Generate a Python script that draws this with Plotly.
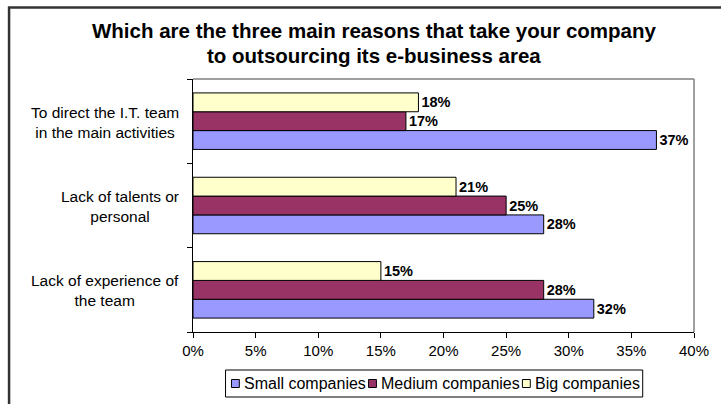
import plotly.graph_objects as go

categories = ["Lack of experience of the team", "Lack of talents or personal",
              "To direct the I.T. team in the main activities"]
category_labels = ["Lack of experience of<br>the team",
                   "Lack of talents or<br>personal",
                   "To direct the I.T. team<br>in the main activities"]
small = [32, 28, 37]
medium = [28, 25, 17]
big = [15, 21, 18]
series_names = ["Small companies", "Medium companies", "Big companies"]
colors = ["#9999FF", "#993366", "#FFFFCC"]
x_ticks = [0, 5, 10, 15, 20, 25, 30, 35, 40]
title_lines = ["Which are the three main reasons that take your company",
               "to outsourcing its e-business area"]

FONT = "Liberation Sans, Arial, sans-serif"
W, H = 721, 404
L, R, T, B = 193, 20, 79, 72
pw = W - L - R
ph = H - T - B

def px_x(x):
    return (x - L) / pw

def px_y(y):
    return (H - B - y) / ph

fig = go.Figure()
for name, vals, col in zip(series_names, [small, medium, big], colors):
    fig.add_trace(go.Bar(
        y=categories, x=vals, name=name, orientation="h",
        marker=dict(color=col, line=dict(color="black", width=1)),
        text=[f"{v}%" for v in vals], textposition="outside",
        textfont=dict(family=FONT, size=14.5, color="black", weight="bold"),
        cliponaxis=False, showlegend=False,
    ))

annotations = []
for cat, lab in zip(categories, category_labels):
    annotations.append(dict(
        x=px_x(181), xref="paper", y=cat, yref="y", text=lab,
        showarrow=False, xanchor="right", yanchor="middle", align="center",
        yshift=-1,
        font=dict(family=FONT, size=15.5, color="black")))

for i, t in enumerate(title_lines):
    annotations.append(dict(
        x=px_x(377), xref="paper", y=px_y(30 + 25 * i), yref="paper",
        text=f"<b>{t}</b>", showarrow=False, xanchor="center", yanchor="middle",
        font=dict(family=FONT, size=20.5, color="black")))

shapes = [
    # outer chart frame
    dict(type="rect", xref="paper", yref="paper",
         x0=px_x(6.5), x1=px_x(730), y0=px_y(7.5), y1=px_y(420),
         line=dict(color="#333333", width=2.5), layer="below"),
    # plot area gray border (top and right)
    dict(type="line", xref="paper", yref="paper", x0=0, x1=1, y0=1, y1=1,
         line=dict(color="#808080", width=1.5)),
    dict(type="line", xref="paper", yref="paper", x0=1, x1=1, y0=0, y1=1,
         line=dict(color="#808080", width=1.5)),
    # legend box
    dict(type="rect", xref="paper", yref="paper",
         x0=px_x(226), x1=px_x(649), y0=px_y(370), y1=px_y(397),
         line=dict(color="black", width=1), fillcolor="white"),
]

# custom legend entries (symbol square + label)
legend_sym_x = [232, 371, 527]
for name, col, sx in zip(series_names, colors, legend_sym_x):
    shapes.append(dict(type="rect", xref="paper", yref="paper",
                       x0=px_x(sx), x1=px_x(sx + 8), y0=px_y(379.5), y1=px_y(387.5),
                       line=dict(color="black", width=1), fillcolor=col))
    annotations.append(dict(x=px_x(sx + 11), xref="paper", y=px_y(383.5), yref="paper",
                            text=name, showarrow=False, xanchor="left", yanchor="middle",
                            font=dict(family=FONT, size=16, color="black")))

fig.update_layout(
    width=W, height=H,
    margin=dict(l=L, r=R, t=T, b=B),
    paper_bgcolor="white", plot_bgcolor="white",
    barmode="group", bargap=0.33, bargroupgap=0,
    font=dict(family=FONT, size=15, color="black"),
    showlegend=False,
    xaxis=dict(range=[0, 40], tickvals=x_ticks,
               ticktext=[f"{v}%" for v in x_ticks],
               showgrid=False, zeroline=False,
               showline=True, linecolor="black", linewidth=1,
               ticks="outside", ticklen=5, tickcolor="black",
               tickfont=dict(family=FONT, size=15)),
    yaxis=dict(categoryorder="array", categoryarray=categories,
               showticklabels=False, showgrid=False, zeroline=False,
               showline=True, linecolor="black", linewidth=1,
               ticks="outside", ticklen=5, tickcolor="black",
               tickson="boundaries"),
    annotations=annotations, shapes=shapes,
)

fig.write_html("out.html")
